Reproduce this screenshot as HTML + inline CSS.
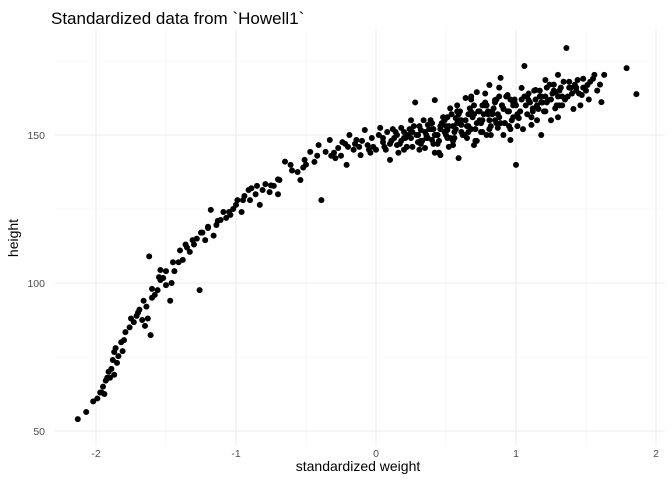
<!DOCTYPE html>
<html><head><meta charset="utf-8"><style>
body{margin:0;background:#fff;}
svg text{font-family:"Liberation Sans",sans-serif;}
</style></head><body>
<svg id="chart" width="672" height="480">
<text x="51" y="24" font-size="17" fill="#000">Standardized data from `Howell1`</text>
<g id="grid"></g>
<g id="xticks"></g>
<g id="yticks"></g>
<g id="points"></g>
<text x="358" y="471" font-size="14" text-anchor="middle" fill="#000">standardized weight</text>
<text x="18" y="238" font-size="14" text-anchor="middle" fill="#000" transform="rotate(-90 18 238)">height</text>
</svg>
<script>
const xTicks=[-2,-1,0,1,2];
const yTicks=[50,100,150];
const xMinor=[-1.5,-0.5,0.5,1.5];
const yMinor=[75,125,175];
const weights=[-2.13,-2.07,-2.02,-1.99,-1.96,-1.94,-1.93,-1.91,-1.9,-1.89,-1.87,-1.87,-1.86,-1.88,-1.84,-1.81,-1.8,-1.79,-1.76,-1.73,-1.71,-1.69,-1.67,-1.65,-1.63,-1.64,-1.61,-1.62,-1.6,-1.58,-1.56,-1.54,-1.54,-1.52,-1.5,-1.47,-1.46,-1.44,-1.41,-1.4,-1.38,-1.36,-1.33,-1.31,-1.28,-1.26,-1.24,-1.22,-1.2,-1.18,-1.16,-1.14,-1.11,-1.09,-1.07,-1.04,-1.02,-1.0,-0.99,-0.96,-0.94,-0.91,-0.89,-0.85,-0.83,-0.81,-0.79,-0.76,-0.73,-0.7,-0.69,-0.61,-0.56,-0.54,-0.51,-0.47,-0.44,-0.41,-0.39,-0.36,-0.33,-0.29,-0.27,-0.24,-0.21,-0.19,-0.16,-0.14,-0.11,-0.08,-0.06,-0.03,0,0.03,0.05,0.08,0.1,0.13,0.15,0.18,0.2,0.23,0.25,0.28,0.3,0.32,0.35,0.37,0.4,0.42,0.44,0.46,0.49,0.51,0.53,0.55,0.57,0.59,0.61,0.64,0.66,0.68,0.7,0.72,0.74,0.76,0.79,0.81,0.83,0.85,0.87,0.89,0.91,0.94,0.96,0.98,1.0,1.02,1.04,1.06,1.09,1.11,1.14,1.16,1.18,1.21,1.23,1.25,1.28,1.3,1.33,1.36,1.39,1.41,1.44,1.47,1.51,1.56,1.61,1.63,1.79,1.86,
0.05,0.1,0.12,0.15,0.18,0.2,0.22,0.25,0.27,0.3,0.32,0.34,0.36,0.38,0.4,0.42,0.44,0.46,0.48,0.5,0.52,0.54,0.56,0.58,0.6,0.62,0.64,0.66,0.68,0.7,0.72,0.74,0.76,0.78,0.8,0.82,0.84,0.86,0.88,0.9,0.92,0.94,0.96,0.98,1.0,1.03,1.06,1.08,1.1,1.13,1.15,1.18,1.2,1.22,1.25,1.27,1.3,1.32,1.35,1.38,1.4,1.43,1.46,1.5,1.53,0.45,0.55,0.65,0.75,0.85,0.95,-0.05,-0.1,-0.2,-0.3,0.58,0.68,0.78,0.88,1.05,1.15,1.3,-0.6,-0.5,-1.3,-1.5,-1.7,-1.85,-1.95,-1.6,-1.2,-0.9,-0.7,
-0.25,-0.15,-0.02,0.02,0.07,0.11,0.14,0.17,0.21,0.24,0.26,0.29,0.31,0.33,0.35,0.37,0.39,0.41,0.43,0.45,0.47,0.49,0.51,0.53,0.55,0.57,0.59,0.61,0.63,0.65,0.67,0.69,0.71,0.73,0.75,0.77,0.79,0.81,0.83,0.85,0.87,0.89,0.91,0.93,0.95,0.97,0.99,1.01,1.04,1.07,1.09,1.12,1.14,1.17,1.19,1.21,1.24,1.26,1.29,1.31,1.34,1.37,1.42,1.45,1.48,1.52,1.55,1.58,1.6,0.26,0.36,0.46,0.56,0.66,0.76,0.86,0.96,0.31,0.41,0.51,0.61,0.71,0.81,0.91,1.01,1.11,1.21,1.31,0.16,0.06,-0.04,-0.12,-0.22,-0.32,-0.42,-0.52,-0.65,-0.75,-0.86,-0.95,-1.05,-1.13,-1.25,-1.35,-1.45,-1.55,-1.66,-1.75,-1.82,-1.92,-1.97,0.48,0.58,0.68,0.78,0.88,0.98,1.08,1.18,1.28,0.22,0.32,0.42,0.52,0.62,0.72,0.82,0.92,1.12,1.22,1.33,1.43,1.48,1.38,1.27,1.17,0.99,0.9,0.8,0.7,0.6,0.5,0.4,0.3,0.2];
const heights=[54,56.4,60,61,63,62.5,67,70,68,71,69,76.7,78,74,75.3,77,80.7,83.4,85,86.8,88.9,91,87.5,85.5,88,92,82.4,109,95,96,97.6,101,104.4,101.7,99.3,94,100,104,107,111,107.8,113,110.5,114.5,115,97.6,117,114.5,118.6,124.7,116,119.6,121.3,124,122,123,125,126.4,128,124,129.4,131.4,132,132.8,126.4,131.4,133.4,130.7,132.8,130,134.8,139.9,137.5,134.8,141.6,144.3,140.9,146.6,128,144.3,148.3,142.2,145.6,147.6,139.9,150,145,148.3,143.2,151.7,146.6,149,145,152.4,147.6,151,141.6,149,146.6,152.4,145,150,155,161,147.6,151.7,145.6,153.4,148.3,161.8,150,143.2,155,151.7,159,146.6,155.7,142.2,153.4,162.5,151,157.8,146.6,164.5,155,160,150,166.9,157,161.8,152.4,169.3,158.8,163.5,148.3,160,139.9,155.7,165.9,173.3,161.8,153.4,165.2,158.8,150,168.6,161.8,155,164.5,170.3,160,179.4,165.9,158.8,168.6,163.5,166.9,170.3,161.1,170.3,172.6,163.8,
149,147,152,150,148,151,146,149,153,150,147,155,149,152,154,150,147,153,156,150,153,157,151,154,158,150,155,157,152,160,154,158,155,161,157,153,159,162,156,160,154,158,162,156,160,158,163,157,161,165,160,163,158,166,162,167,163,166,162,168,164,166,160,165,168,144,148,149,151,155,153,145,148,146,144,160,163,164,166,152,155,156,138,140,113,104,90,73,65,98,119,128,135,
143,147,146,150,145,148,151,147,149,152,146,150,153,148,151,149,155,152,150,148,154,151,156,149,153,152,157,155,150,153,159,156,152,158,154,157,160,155,158,161,157,154,159,163,158,155,161,157,162,160,164,159,162,165,161,163,167,164,160,165,168,163,167,164,166,162,169,165,167,151,150,152,149,153,151,154,152,145,147,149,151,148,152,150,153,156,158,160,144,146,144,146,147,143,143,139,141,133,130,128,124,121,117,112,107,102,94,88,80,68,63,156,158,162,160,163,161,163,161,159,146,148,144,146,150,148,150,154,158,161,163,165,169,166,165,163,162,160,158,157,155,153,152,150,149];
const L=55,R=665,T=30,B=445;
const xS=v=>376+v*140;
const yS=v=>135-(v-150)*2.96;
const NS="http://www.w3.org/2000/svg";
function mk(tag,attrs,parent){const e=document.createElementNS(NS,tag);for(const k in attrs)e.setAttribute(k,attrs[k]);parent.appendChild(e);return e;}
const grid=document.getElementById('grid');
xMinor.forEach(v=>{const l=mk('line',{x1:xS(v),x2:xS(v),y1:T,y2:B,stroke:'#f2f2f2','stroke-width':0.6},grid);

});
yMinor.forEach(v=>{const l=mk('line',{x1:L,x2:R,y1:yS(v),y2:yS(v),stroke:'#f2f2f2','stroke-width':0.6},grid);

});
const xt=document.getElementById('xticks');
xTicks.forEach(v=>{const l=mk('line',{x1:xS(v),x2:xS(v),y1:T,y2:B,stroke:'#ebebeb','stroke-width':1.1},grid);


const t=mk('text',{x:xS(v),y:B+12,'font-size':10.5,'text-anchor':'middle',fill:'#4d4d4d'},xt);t.textContent=v;

});
const yt=document.getElementById('yticks');
yTicks.forEach(v=>{const l=mk('line',{x1:L,x2:R,y1:yS(v),y2:yS(v),stroke:'#ebebeb','stroke-width':1.1},grid);


const t=mk('text',{x:L-10,y:yS(v)+4,'font-size':10.5,'text-anchor':'end',fill:'#4d4d4d'},yt);t.textContent=v;

});
const pts=document.getElementById('points');
weights.forEach((w,i)=>{const c=mk('circle',{cx:xS(w),cy:yS(heights[i]),r:3,fill:'#000'},pts);

});
</script>
</body></html>
